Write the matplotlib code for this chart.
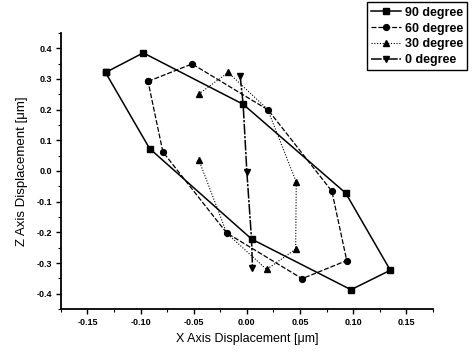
import matplotlib
matplotlib.use("Agg")
import matplotlib.pyplot as plt
from matplotlib.ticker import MultipleLocator, FormatStrFormatter

plt.rcParams['font.family'] = ['Liberation Sans', 'DejaVu Sans']

# 90 degree loop (closed)
x90 = [-0.133, -0.0975, -0.0035, 0.093, 0.135, 0.098, 0.0045, -0.0915, -0.133]
z90 = [0.321, 0.385, 0.2175, -0.072, -0.3235, -0.387, -0.222, 0.073, 0.321]
# 60 degree loop (closed)
x60 = [-0.093, -0.0515, 0.020, 0.080, 0.094, 0.052, -0.019, -0.079, -0.093]
z60 = [0.292, 0.349, 0.199, -0.066, -0.292, -0.351, -0.202, 0.062, 0.292]
# 30 degree loop (open on the left side)
x30 = [-0.0453, -0.0189, 0.0186, 0.0459, 0.0465, 0.0195, -0.0176, -0.0453]
z30 = [0.037, -0.203, -0.321, -0.255, -0.036, 0.201, 0.321, 0.251]
# 0 degree
x0 = [-0.0063, -0.0035, 0.0, 0.0044, 0.0053]
z0 = [0.310, 0.2175, -0.003, -0.222, -0.315]

labels = ['90 degree', '60 degree', '30 degree', '0 degree']

fig = plt.figure(figsize=(4.72, 3.54), dpi=100)
ax = fig.add_axes([0.129, 0.127, 0.788, 0.78])

ax.plot(x30, z30, color='black', lw=0.8, ls=(0, (1, 1.5)), marker='^', ms=4.5,
        markevery=[0, 2, 3, 4, 6, 7], label=labels[2], zorder=2)
ax.plot(x0, z0, color='black', lw=1.1, ls=(0, (7, 1, 1.5, 1)), marker='v', ms=5,
        markevery=[0, 2, 4], label=labels[3], zorder=2)
ax.plot(x60, z60, color='black', lw=0.9, ls=(0, (4, 1.5)), marker='o', ms=4.2,
        label=labels[1], zorder=3)
ax.plot(x90, z90, color='black', lw=1.1, ls='-', marker='s', ms=4,
        label=labels[0], zorder=4)

ax.set_xlim(-0.175, 0.175)
ax.set_ylim(-0.45, 0.45)
ax.xaxis.set_major_locator(MultipleLocator(0.05))
ax.xaxis.set_minor_locator(MultipleLocator(0.025))
ax.yaxis.set_major_locator(MultipleLocator(0.1))
ax.yaxis.set_minor_locator(MultipleLocator(0.05))
ax.xaxis.set_major_formatter(FormatStrFormatter('%.2f'))
ax.yaxis.set_major_formatter(FormatStrFormatter('%.1f'))

for s in ['top', 'right']:
    ax.spines[s].set_visible(False)
for s in ['left', 'bottom']:
    ax.spines[s].set_linewidth(1.3)

ax.tick_params(which='major', direction='out', length=3.5, width=1, labelsize=6.5, pad=3)
ax.tick_params(which='minor', direction='out', length=2, width=0.8)
for lab in ax.get_xticklabels() + ax.get_yticklabels():
    lab.set_fontweight('bold')

ax.set_xlabel('X Axis Displacement [\u03bcm]', fontsize=9, labelpad=4)
ax.set_ylabel('Z Axis Displacement [\u03bcm]', fontsize=9.5, labelpad=6)

handles, labs = ax.get_legend_handles_labels()
order = [labs.index(l) for l in labels]
leg = fig.legend([handles[i] for i in order], [labs[i] for i in order],
                 loc='upper right', bbox_to_anchor=(0.99, 0.993),
                 prop={'weight': 'bold', 'size': 9}, frameon=True,
                 fancybox=False, edgecolor='black', framealpha=1,
                 handlelength=2.4, handletextpad=0.3, labelspacing=0.3,
                 borderpad=0.35, borderaxespad=0)
leg.get_frame().set_linewidth(1.0)

fig.savefig('out.png', dpi=100)
